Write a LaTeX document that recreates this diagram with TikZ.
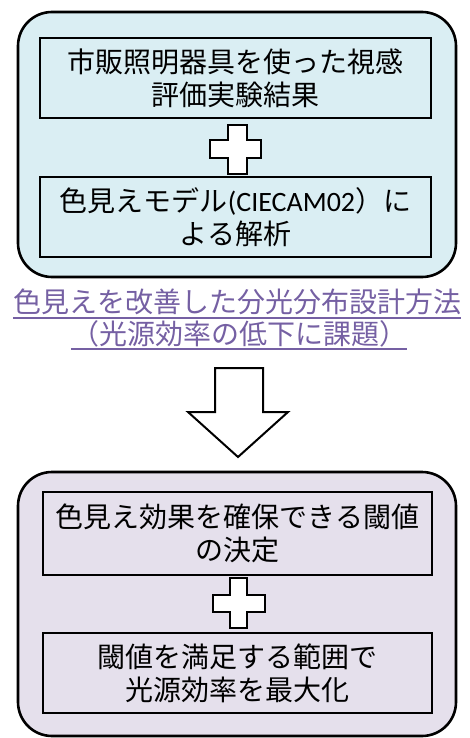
\documentclass[tikz,border=0pt]{standalone}
\usepackage{fontspec}
\setmainfont{Noto Sans CJK JP}
\newfontfamily\latinpart{Carlito}
\definecolor{topfill}{HTML}{DAEEF3}
\definecolor{botfill}{HTML}{E5E0EC}
\definecolor{titlepurple}{HTML}{7560A3}
\begin{document}
\begin{tikzpicture}[x=1pt,y=-1pt,
  outerbox/.style={draw=black, line width=2.6pt, rounded corners=34pt},
  innerbox/.style={draw=black, line width=1.2pt, minimum width=391pt, minimum height=80pt, inner sep=0pt, align=center, font=\fontsize{28}{33}\selectfont},
  plusshape/.style={draw=black, fill=white, line width=1.3pt, line join=miter},
  titletext/.style={text=titlepurple, font=\fontsize{28}{32}\selectfont, inner sep=0pt},
  uline/.style={draw=titlepurple, line width=1.5pt},
  blockarrow/.style={draw=black, fill=white, line width=2pt, line join=miter}
]
\useasboundingbox (0,0) rectangle (470,738);
% outer containers
\draw[outerbox, fill=topfill] (18,12) rectangle (456,277);
\draw[outerbox, fill=botfill] (18,472) rectangle (456,736);
% inner boxes top
\node[innerbox] (b1) at (235.5,78) {\raisebox{-2pt}{市販照明器具を使った視感}\\\raisebox{-2pt}{評価実験結果}};
\node[innerbox] (b2) at (235.5,217) {色見えモデル{\latinpart(CIECAM02}）に\\よる解析};
% plus top
\draw[plusshape] (228,125) -- (247,125) -- (247,140) -- (261,140) -- (261,158) -- (247,158) -- (247,174) -- (228,174) -- (228,158) -- (210,158) -- (210,140) -- (228,140) -- cycle;
% title
\node[titletext] (t1) at (237,302) {色見えを改善した分光分布設計方法};
\node[titletext] (t2) at (239,334) {（光源効率の低下に課題）};
\draw[uline] (t1.west |- 0,318) -- (t1.east |- 0,318);
\draw[uline] (t2.west |- 0,349) -- (t2.east |- 0,349);
% block arrow
\draw[blockarrow] (215,368) -- (263,368) -- (263,412) -- (288,412) -- (238,457) -- (188,412) -- (215,412) -- cycle;
% inner boxes bottom
\node[innerbox, minimum width=389pt, minimum height=83pt] (b3) at (237.5,533.5) {色見え効果を確保できる閾値\\の決定};
\node[innerbox, minimum width=389pt] (b4) at (237.5,673) {閾値を満足する範囲で\\光源効率を最大化};
% plus bottom
\draw[plusshape] (230,578) -- (247,578) -- (247,595) -- (265,595) -- (265,612) -- (247,612) -- (247,628) -- (230,628) -- (230,612) -- (213,612) -- (213,595) -- (230,595) -- cycle;
\end{tikzpicture}
\end{document}
